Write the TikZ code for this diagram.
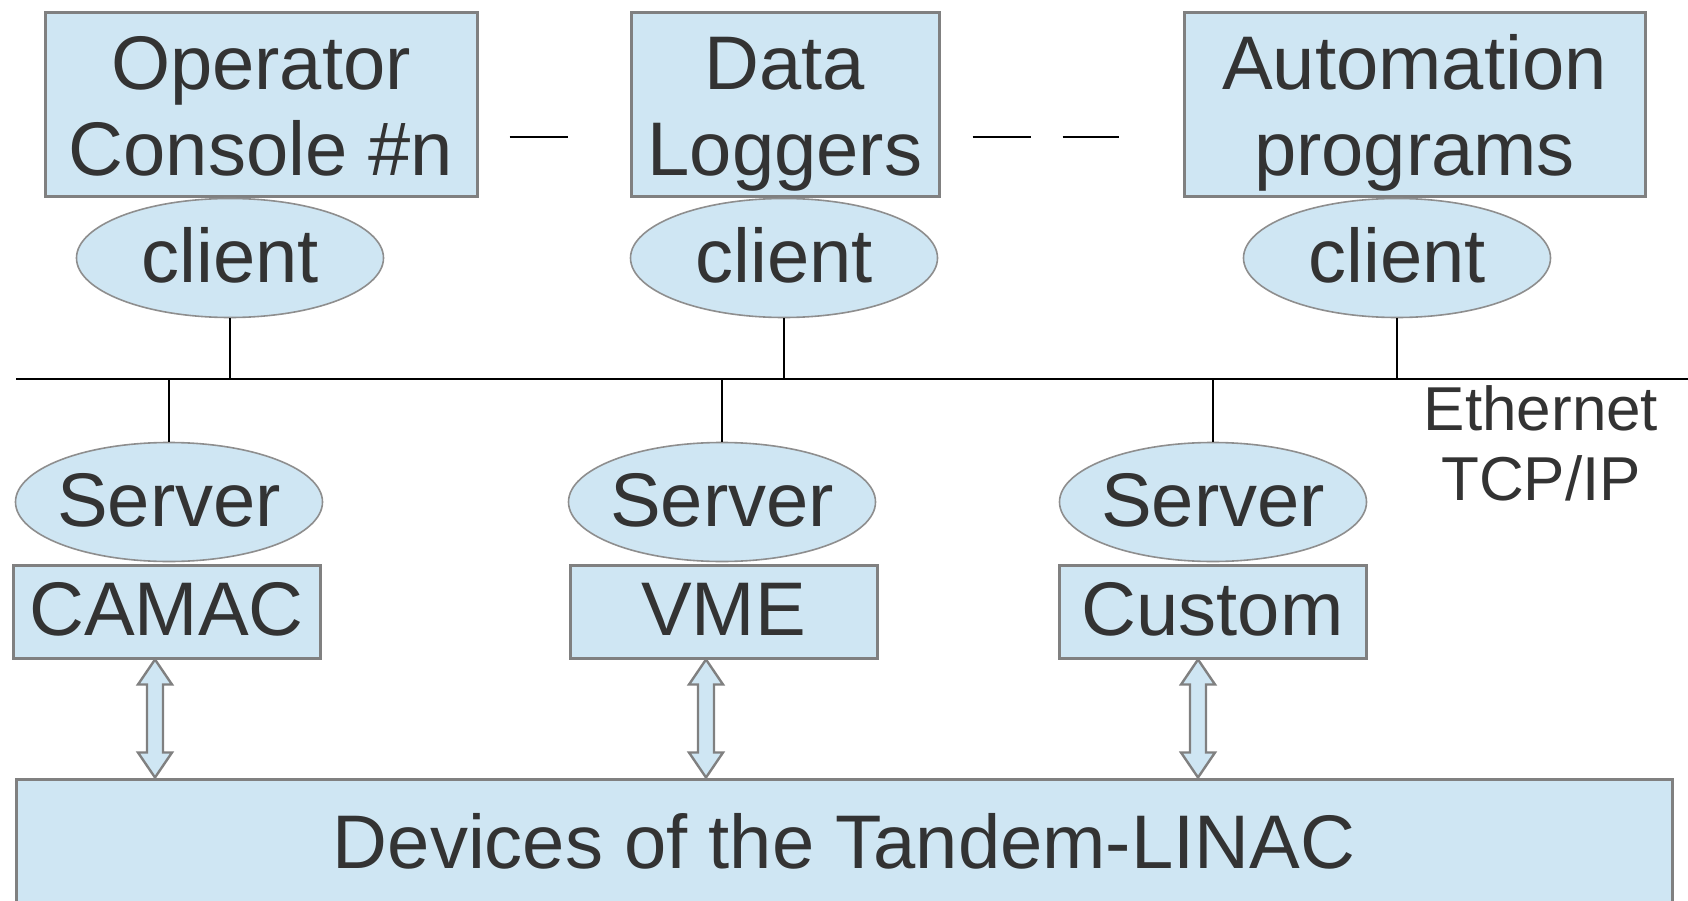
\documentclass[tikz,border=0pt]{standalone}
\usepackage{fontspec}
\setmainfont{Liberation Sans}
\usetikzlibrary{calc, shapes.geometric}

\definecolor{boxblue}{HTML}{CFE6F3}
\definecolor{boxgray}{HTML}{808080}
\definecolor{ringgray}{HTML}{8E8E8E}
\definecolor{txtgray}{HTML}{333333}

% two rows of text with fixed top and bottom, so all boxes share one baseline
\newcommand{\tworow}[2]{\rule{0pt}{73pt}#1\\#2\rule[-18pt]{0pt}{18pt}}
% text that does not widen its ellipse
\newcommand{\slim}[1]{\makebox[0pt]{#1}}

\begin{document}
\begin{tikzpicture}[
    x=1pt, y=-1pt, % one unit per pixel, y downwards
    bigfont/.style={font=\fontsize{76}{86}\selectfont, text=txtgray},
    onerow/.style={text height=54pt, text depth=6pt}, % same baseline in every node
    appbox/.style={bigfont, draw=boxgray, line width=3pt, fill=boxblue,
        inner sep=0pt, minimum height=184pt, align=center},
    hwbox/.style={bigfont, onerow, draw=boxgray, line width=3pt, fill=boxblue,
        inner sep=0pt, minimum width=307pt, minimum height=93pt},
    soft/.style={bigfont, onerow, ellipse, draw=ringgray, line width=1.6pt,
        fill=boxblue, inner sep=0pt, minimum width=307pt, minimum height=119pt},
    wire/.style={black, line width=2.6pt},
    dots/.style={black, line width=2.6pt, dash pattern=on 58pt off 32pt},
    hollow/.style={draw=boxgray, line width=2.4pt, fill=boxblue, line join=miter},
    netlabel/.style={font=\fontsize{62}{70}\selectfont, text=txtgray, align=center}
]
    \useasboundingbox (0,0) rectangle (1688,901);

    % Programs on the top row
    \node[appbox, minimum width=432pt] (op) at (261,105) {\tworow{Operator}{Console \#n}};
    \node[appbox, minimum width=308pt] (dl) at (785,105) {\tworow{Data}{Loggers}};
    \node[appbox, minimum width=461pt] (auto) at (1414.5,105) {\tworow{Automation}{programs}};

    % "more of them"
    \draw[dots] ($(op.east)+(31,32)$) -- ++(59,0);
    \draw[dots] ($(dl.east)+(32,32)$) -- ($(auto.west)+(-64,32)$);

    % Clients
    \node[soft] (c1) at (230,258) {\slim{client}};
    \node[soft] (c2) at (784,258) {\slim{client}};
    \node[soft] (c3) at (1397,258) {\slim{client}};

    % Network
    \coordinate (busL) at (16,379);
    \coordinate (busR) at (1688,379);
    \draw[wire] (busL) -- (busR);
    \node[netlabel] (eth) at (1541,443) {Ethernet\\TCP/IP};

    % Servers and their hardware
    \node[soft] (s1) at (169,502) {\slim{Server}};
    \node[soft] (s2) at (722,502) {\slim{Server}};
    \node[soft] (s3) at (1213,502) {\slim{Server}};
    \node[hwbox] (camac) at (166.5,611.5) {CAMAC};
    \node[hwbox] (vme) at (723.5,611.5) {VME};
    \node[hwbox] (custom) at (1212.5,611.5) {Custom};

    \node[bigfont, onerow, draw=boxgray, line width=3pt, fill=boxblue, inner sep=0pt,
        minimum width=1656pt, minimum height=131pt] (dev) at (844,844.5)
        {Devices of the Tandem-LINAC};

    % Drops to the bus
    \foreach \n in {c1, c2, c3} {
        \draw[wire] (\n.south) -- (\n.south |- busL);
    }
    \foreach \n in {s1, s2, s3} {
        \draw[wire] (\n.north) -- (\n.north |- busL);
    }

    % Two-way arrows down to the devices
    \foreach \b/\dx in {camac/-11.5, vme/-17.5, custom/-14.5} {
        \path ($(\b.south)+(\dx,0)$) coordinate (t) (t |- dev.north) coordinate (u);
        \draw[hollow] (t) -- ++(17,25) -- ++(-9,0) -- ($(u)+(8,-25)$) -- ++(9,0)
            -- (u) -- ++(-17,-25) -- ++(9,0) -- ($(t)+(-8,25)$) -- ++(-9,0) -- cycle;
    }

\end{tikzpicture}
\end{document}
